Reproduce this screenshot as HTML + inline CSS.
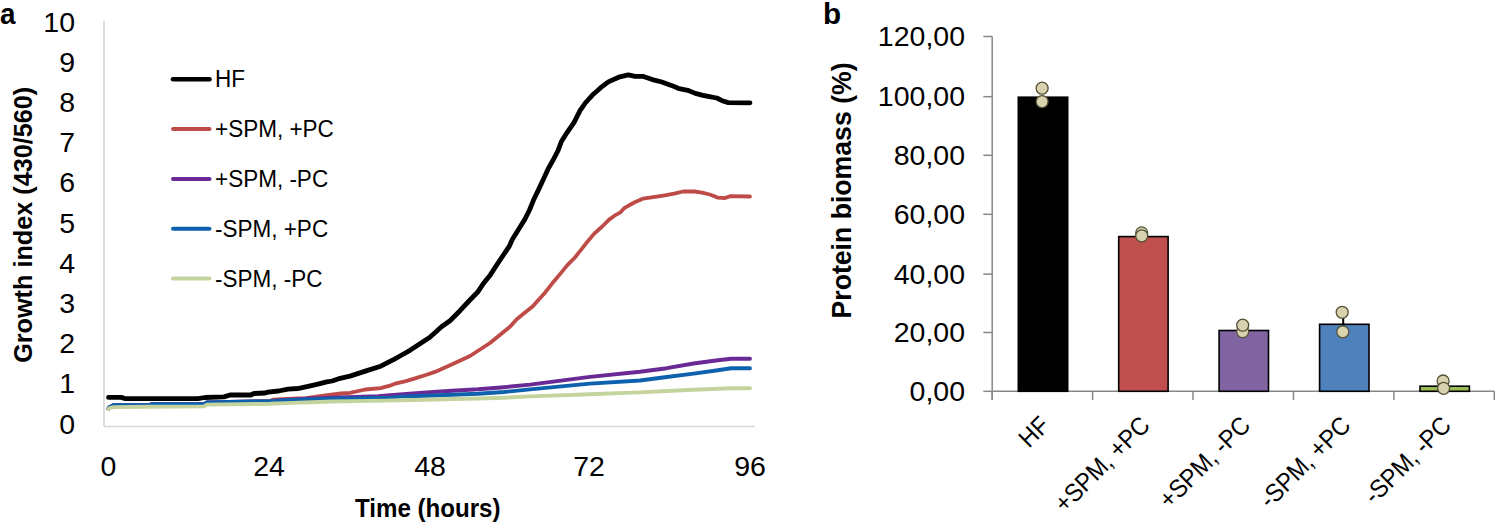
<!DOCTYPE html>
<html><head><meta charset="utf-8"><style>
html,body{margin:0;padding:0;background:#fff;width:1496px;height:522px;overflow:hidden}
svg{display:block}
text{font-family:"Liberation Sans", sans-serif;fill:#000}
</style></head><body>
<svg width="1496" height="522" viewBox="0 0 1496 522">
<text transform="translate(0.00,23.90) scale(0.9300,1.0000)" font-size="30" font-weight="bold">a</text>
<line x1="104" y1="21" x2="104" y2="426.5" stroke="#d6d6d6" stroke-width="1.6"/>
<line x1="104" y1="426.5" x2="754.5" y2="426.5" stroke="#d6d6d6" stroke-width="1.6"/>
<text transform="translate(75.00,433.50) scale(1.0550,1.0000)" font-size="27" text-anchor="end">0</text>
<text transform="translate(75.00,393.31) scale(1.0550,1.0000)" font-size="27" text-anchor="end">1</text>
<text transform="translate(75.00,353.12) scale(1.0550,1.0000)" font-size="27" text-anchor="end">2</text>
<text transform="translate(75.00,312.93) scale(1.0550,1.0000)" font-size="27" text-anchor="end">3</text>
<text transform="translate(75.00,272.74) scale(1.0550,1.0000)" font-size="27" text-anchor="end">4</text>
<text transform="translate(75.00,232.55) scale(1.0550,1.0000)" font-size="27" text-anchor="end">5</text>
<text transform="translate(75.00,192.36) scale(1.0550,1.0000)" font-size="27" text-anchor="end">6</text>
<text transform="translate(75.00,152.17) scale(1.0550,1.0000)" font-size="27" text-anchor="end">7</text>
<text transform="translate(75.00,111.98) scale(1.0550,1.0000)" font-size="27" text-anchor="end">8</text>
<text transform="translate(75.00,71.79) scale(1.0550,1.0000)" font-size="27" text-anchor="end">9</text>
<text transform="translate(75.00,31.60) scale(1.0550,1.0000)" font-size="27" text-anchor="end">10</text>
<text transform="translate(108.50,475.60) scale(1.0550,1.0000)" font-size="27" text-anchor="middle">0</text>
<text transform="translate(269.10,475.60) scale(1.0550,1.0000)" font-size="27" text-anchor="middle">24</text>
<text transform="translate(430.00,475.60) scale(1.0550,1.0000)" font-size="27" text-anchor="middle">48</text>
<text transform="translate(589.00,475.60) scale(1.0550,1.0000)" font-size="27" text-anchor="middle">72</text>
<text transform="translate(750.10,475.60) scale(1.0550,1.0000)" font-size="27" text-anchor="middle">96</text>
<text transform="translate(355.00,516.60) scale(0.9650,1.0000)" font-size="25" font-weight="bold">Time (hours)</text>
<text transform="translate(31.50,362.80) rotate(-90) scale(1.0130,1.0000)" font-size="24.9" font-weight="bold">Growth index (430/560)</text>
<line x1="173" y1="79.3" x2="209.5" y2="79.3" stroke="#000000" stroke-width="4.6" stroke-linecap="round"/>
<text transform="translate(215.00,87.10) scale(0.9150,1.0000)" font-size="24.6">HF</text>
<line x1="173" y1="129.1" x2="209.5" y2="129.1" stroke="#be4b48" stroke-width="4" stroke-linecap="round"/>
<text transform="translate(215.00,137.10) scale(0.9150,1.0000)" font-size="24.6">+SPM, +PC</text>
<line x1="173" y1="178.9" x2="209.5" y2="178.9" stroke="#6a2a96" stroke-width="4" stroke-linecap="round"/>
<text transform="translate(215.00,187.10) scale(0.9150,1.0000)" font-size="24.6">+SPM, -PC</text>
<line x1="173" y1="228.7" x2="209.5" y2="228.7" stroke="#0e62ad" stroke-width="4" stroke-linecap="round"/>
<text transform="translate(215.00,237.10) scale(0.9150,1.0000)" font-size="24.6">-SPM, +PC</text>
<line x1="173" y1="278.5" x2="209.5" y2="278.5" stroke="#c5d49f" stroke-width="4" stroke-linecap="round"/>
<text transform="translate(215.00,287.10) scale(0.9150,1.0000)" font-size="24.6">-SPM, -PC</text>
<path d="M108.5,397.4 L121.4,397.4 L125.4,398.7 L198.0,398.7 L205.0,397.5 L224.0,396.9 L230.0,395.0 L250.8,395.0 L254.0,393.5 L265.0,393.0 L268.0,392.1 L278.5,391.0 L288.0,389.2 L297.4,388.5 L300.0,388.2 L314.8,384.8 L326.8,381.8 L332.1,381.0 L340.2,378.3 L350.0,376.1 L365.3,371.1 L380.7,366.2 L395.0,358.8 L400.0,356.0 L410.0,350.3 L419.2,344.3 L429.9,337.3 L441.5,326.8 L450.0,320.7 L460.0,310.7 L469.9,300.0 L477.5,292.3 L483.0,284.1 L490.3,274.9 L497.2,264.2 L503.4,255.0 L509.5,245.8 L512.3,239.6 L518.8,229.1 L524.9,219.2 L529.5,210.0 L533.4,200.3 L538.8,189.1 L543.4,179.2 L548.0,169.2 L553.4,159.5 L558.0,150.7 L561.4,141.5 L567.2,132.3 L574.1,122.3 L580.0,110.7 L585.3,103.0 L592.2,95.3 L600.7,87.7 L608.3,81.9 L618.7,77.2 L628.3,74.8 L635.0,76.3 L642.7,76.3 L652.3,79.6 L661.8,82.0 L671.4,85.4 L678.1,88.3 L687.7,90.3 L695.3,93.4 L703.0,95.3 L710.7,96.8 L716.8,98.0 L722.1,100.7 L728.3,102.6 L750.0,102.8" fill="none" stroke="#000000" stroke-width="4.8" stroke-linejoin="round" stroke-linecap="round"/>
<path d="M108.5,408.6 L110.0,406.9 L113.4,405.3 L140.0,405.3 L150.0,404.9 L152.0,404.2 L204.0,404.1 L207.0,402.4 L240.0,401.8 L270.0,401.2 L273.0,399.6 L297.4,398.5 L306.1,398.2 L323.4,395.6 L340.8,393.5 L350.0,392.8 L365.3,389.5 L380.7,388.2 L389.9,385.7 L395.0,383.7 L405.0,381.4 L415.0,378.4 L425.0,375.3 L435.0,371.9 L450.0,365.3 L470.0,356.0 L490.0,343.0 L510.0,326.8 L516.5,319.5 L525.0,312.6 L532.6,306.5 L539.5,298.8 L545.0,292.7 L552.3,283.3 L560.0,274.1 L567.6,264.9 L574.5,258.0 L580.0,251.1 L586.1,243.3 L593.8,234.1 L602.2,226.5 L609.1,219.6 L614.5,215.7 L620.0,212.7 L624.6,207.8 L634.2,202.5 L642.8,198.7 L653.3,197.2 L665.0,195.3 L675.3,193.4 L683.0,191.5 L694.5,191.5 L702.1,192.6 L709.8,194.5 L717.5,197.6 L725.1,198.0 L730.5,196.1 L750.0,196.5" fill="none" stroke="#be4b48" stroke-width="3.8" stroke-linejoin="round" stroke-linecap="round"/>
<path d="M108.5,408.6 L110.0,406.9 L113.4,405.3 L140.0,405.3 L150.0,404.9 L152.0,404.2 L204.0,404.1 L207.0,402.4 L240.0,401.8 L270.0,401.2 L286.0,400.0 L306.0,398.6 L332.0,397.8 L378.0,396.3 L400.0,394.5 L426.0,392.5 L452.0,390.7 L478.0,389.3 L504.0,387.2 L530.0,384.6 L590.0,376.9 L640.0,371.8 L666.8,368.2 L693.6,363.5 L717.8,360.2 L731.2,358.8 L750.0,358.8" fill="none" stroke="#6a2a96" stroke-width="3.9" stroke-linejoin="round" stroke-linecap="round"/>
<path d="M108.5,408.6 L110.0,406.9 L113.4,405.3 L140.0,405.3 L150.0,404.9 L152.0,404.2 L204.0,404.1 L207.0,402.4 L240.0,401.8 L270.0,401.2 L286.0,400.3 L332.0,398.7 L392.0,397.8 L400.0,396.6 L426.0,395.8 L452.0,394.8 L478.0,393.7 L504.0,392.0 L530.0,389.4 L590.0,383.6 L640.0,380.5 L666.8,377.0 L693.6,373.6 L717.8,370.2 L731.2,368.2 L750.0,368.2" fill="none" stroke="#0e62ad" stroke-width="3.9" stroke-linejoin="round" stroke-linecap="round"/>
<path d="M108.5,409.1 L110.0,408.1 L113.4,407.1 L150.0,406.8 L204.0,406.4 L207.0,404.6 L270.0,403.8 L286.0,403.1 L332.0,401.5 L385.0,400.6 L400.0,400.3 L426.0,399.8 L452.0,399.0 L478.0,398.5 L504.0,397.7 L530.0,396.4 L590.0,394.3 L640.0,392.4 L666.8,391.0 L693.6,389.7 L731.2,388.3 L750.0,388.3" fill="none" stroke="#c5d49f" stroke-width="3.9" stroke-linejoin="round" stroke-linecap="round"/>
<text transform="translate(823.00,23.70)" font-size="29.7" font-weight="bold">b</text>
<line x1="992.2" y1="36.5" x2="992.2" y2="400" stroke="#878787" stroke-width="1.5"/>
<line x1="983.3" y1="391.3" x2="992.2" y2="391.3" stroke="#878787" stroke-width="1.5"/>
<text transform="translate(965.00,400.80) scale(1.0550,1.0000)" font-size="27" text-anchor="end">0,00</text>
<line x1="983.3" y1="332.5" x2="992.2" y2="332.5" stroke="#878787" stroke-width="1.5"/>
<text transform="translate(965.00,342.00) scale(1.0550,1.0000)" font-size="27" text-anchor="end">20,00</text>
<line x1="983.3" y1="274.1" x2="992.2" y2="274.1" stroke="#878787" stroke-width="1.5"/>
<text transform="translate(965.00,283.60) scale(1.0550,1.0000)" font-size="27" text-anchor="end">40,00</text>
<line x1="983.3" y1="214.3" x2="992.2" y2="214.3" stroke="#878787" stroke-width="1.5"/>
<text transform="translate(965.00,223.80) scale(1.0550,1.0000)" font-size="27" text-anchor="end">60,00</text>
<line x1="983.3" y1="155.3" x2="992.2" y2="155.3" stroke="#878787" stroke-width="1.5"/>
<text transform="translate(965.00,164.80) scale(1.0550,1.0000)" font-size="27" text-anchor="end">80,00</text>
<line x1="983.3" y1="96.7" x2="992.2" y2="96.7" stroke="#878787" stroke-width="1.5"/>
<text transform="translate(965.00,106.20) scale(1.0550,1.0000)" font-size="27" text-anchor="end">100,00</text>
<line x1="983.3" y1="36.5" x2="992.2" y2="36.5" stroke="#878787" stroke-width="1.5"/>
<text transform="translate(965.00,46.00) scale(1.0550,1.0000)" font-size="27" text-anchor="end">120,00</text>
<line x1="992.2" y1="391.3" x2="1494.3" y2="391.3" stroke="#878787" stroke-width="1.5"/>
<line x1="992.2" y1="391.3" x2="992.2" y2="400" stroke="#878787" stroke-width="1.5"/>
<line x1="1092.6" y1="391.3" x2="1092.6" y2="400" stroke="#878787" stroke-width="1.5"/>
<line x1="1193.0" y1="391.3" x2="1193.0" y2="400" stroke="#878787" stroke-width="1.5"/>
<line x1="1293.5" y1="391.3" x2="1293.5" y2="400" stroke="#878787" stroke-width="1.5"/>
<line x1="1393.9" y1="391.3" x2="1393.9" y2="400" stroke="#878787" stroke-width="1.5"/>
<line x1="1494.3" y1="391.3" x2="1494.3" y2="400" stroke="#878787" stroke-width="1.5"/>
<rect x="1018.3" y="97.2" width="49.4" height="294.1" fill="#000000" stroke="#000" stroke-width="1.6"/>
<circle cx="1042.1" cy="101.6" r="6.0" fill="#d8d3ae" stroke="#545238" stroke-width="1.3"/>
<circle cx="1042.1" cy="88.2" r="6.0" fill="#d8d3ae" stroke="#545238" stroke-width="1.3"/>
<text transform="translate(1050.91,427.00) rotate(-45) scale(0.9150,1.0000)" font-size="25.338" text-anchor="end">HF</text>
<rect x="1118.7" y="236.6" width="49.4" height="154.7" fill="#c0504d" stroke="#000" stroke-width="1.6"/>
<circle cx="1141.7" cy="232.9" r="6.0" fill="#d8d3ae" stroke="#545238" stroke-width="1.3"/>
<circle cx="1141.7" cy="235.8" r="6.0" fill="#d8d3ae" stroke="#545238" stroke-width="1.3"/>
<text transform="translate(1151.33,427.00) rotate(-45) scale(0.9150,1.0000)" font-size="25.338" text-anchor="end">+SPM, +PC</text>
<rect x="1219.1" y="330.5" width="49.4" height="60.8" fill="#8064a2" stroke="#000" stroke-width="1.6"/>
<circle cx="1242.7" cy="331.6" r="6.0" fill="#d8d3ae" stroke="#545238" stroke-width="1.3"/>
<circle cx="1242.7" cy="325.2" r="6.0" fill="#d8d3ae" stroke="#545238" stroke-width="1.3"/>
<text transform="translate(1251.75,427.00) rotate(-45) scale(0.9150,1.0000)" font-size="25.338" text-anchor="end">+SPM, -PC</text>
<rect x="1319.6" y="324.3" width="49.4" height="67.0" fill="#4f81bd" stroke="#000" stroke-width="1.6"/>
<line x1="1343.2" y1="316" x2="1343.2" y2="337.5" stroke="#000" stroke-width="2"/>
<circle cx="1342.8" cy="331.8" r="6.0" fill="#d8d3ae" stroke="#545238" stroke-width="1.3"/>
<circle cx="1342.2" cy="312.3" r="6.0" fill="#d8d3ae" stroke="#545238" stroke-width="1.3"/>
<text transform="translate(1352.17,427.00) rotate(-45) scale(0.9150,1.0000)" font-size="25.338" text-anchor="end">-SPM, +PC</text>
<rect x="1420.0" y="386.2" width="49.4" height="5.1" fill="#9bbb59" stroke="#000" stroke-width="1.6"/>
<circle cx="1443.1" cy="381.0" r="6.0" fill="#d8d3ae" stroke="#545238" stroke-width="1.3"/>
<circle cx="1443.6" cy="388.3" r="6.0" fill="#d8d3ae" stroke="#545238" stroke-width="1.3"/>
<text transform="translate(1452.59,427.00) rotate(-45) scale(0.9150,1.0000)" font-size="25.338" text-anchor="end">-SPM, -PC</text>
<text transform="translate(851.20,318.50) rotate(-90) scale(0.9760,1.0000)" font-size="27.3" font-weight="bold">Protein biomass (%)</text>
</svg>
</body></html>
